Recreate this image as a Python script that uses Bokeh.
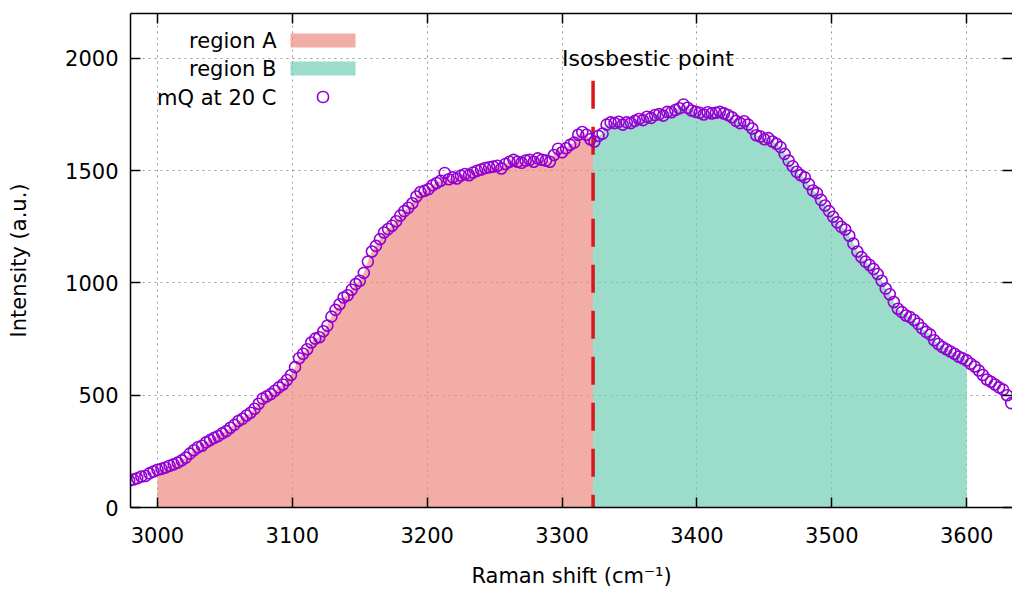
import numpy as np
from bokeh.plotting import figure
from bokeh.models import (ColumnDataSource, LinearAxis, Range1d, FixedTicker,
                          Label, BoxAnnotation)
from bokeh.embed import file_html
from bokeh.resources import INLINE

# ---- data -------------------------------------------------------------
# Raman spectrum of mQ water at 20 C, sampled every 3 cm^-1 from 2979 cm^-1
shift_start = 2979
shift_step = 3
intensity = [
    120, 125, 130, 138, 140, 152, 160, 168, 172, 178,
    186, 192, 200, 210, 222, 240, 255, 268, 275, 290,
    300, 310, 318, 330, 340, 355, 368, 385, 395, 410,
    422, 440, 462, 485, 495, 505, 520, 535, 548, 568,
    590, 625, 665, 685, 705, 735, 752, 758, 785, 810,
    850, 880, 905, 935, 945, 970, 995, 1010, 1045, 1095,
    1140, 1165, 1195, 1225, 1240, 1255, 1275, 1300, 1320, 1335,
    1355, 1385, 1405, 1410, 1418, 1435, 1445, 1455, 1490, 1462,
    1470, 1465, 1478, 1485, 1480, 1492, 1500, 1505, 1512, 1515,
    1518, 1522, 1510, 1530, 1540, 1548, 1540, 1535, 1545, 1548,
    1540, 1555, 1548, 1545, 1540, 1570, 1598, 1582, 1600, 1615,
    1625, 1660, 1672, 1660, 1640, 1630, 1655, 1665, 1705, 1715,
    1712, 1718, 1705, 1715, 1712, 1722, 1730, 1725, 1740, 1735,
    1748, 1752, 1745, 1762, 1760, 1770, 1778, 1795, 1780, 1768,
    1762, 1758, 1750, 1760, 1755, 1758, 1762, 1755, 1748, 1738,
    1722, 1712, 1720, 1705, 1688, 1658, 1652, 1640, 1645, 1630,
    1620, 1605, 1575, 1545, 1520, 1495, 1480, 1470, 1440, 1412,
    1400, 1370, 1345, 1320, 1295, 1270, 1250, 1238, 1210, 1175,
    1140, 1115, 1095, 1080, 1062, 1040, 1010, 975, 950, 915,
    885, 870, 855, 848, 835, 818, 798, 782, 770, 745,
    728, 715, 705, 695, 685, 672, 665, 655, 640, 628,
    610, 590, 570, 560, 548, 535, 525, 500, 465,
]

region_a = (3000, 3323)      # integration window A
region_b = (3323, 3600)      # integration window B
isosbestic_point = 3323
isosbestic_line_top = 1900

x_ticks = [3000, 3100, 3200, 3300, 3400, 3500, 3600]
y_ticks = [0, 500, 1000, 1500, 2000]

series_label = "mQ at 20 C"
region_labels = ["region A", "region B"]

# ---- styling ----------------------------------------------------------
FONT = "DejaVu Sans"
FS = "21px"
COLOR_A = "#ec8c80"
COLOR_B = "#70cdb5"
FILL_ALPHA = 0.7
MARKER_COLOR = "#9400d3"
ISO_COLOR = "#d8181c"

shift = shift_start + shift_step * np.arange(len(intensity))
intensity = np.asarray(intensity, dtype=float)
iso_height = float(np.interp(isosbestic_point, shift, intensity))


def window(lo, hi):
    """Spectrum restricted to [lo, hi], closed at the isosbestic edge."""
    m = (shift >= lo) & (shift <= hi)
    xs = list(shift[m])
    ys = list(intensity[m])
    if lo == isosbestic_point and (not xs or xs[0] != lo):
        xs.insert(0, lo)
        ys.insert(0, iso_height)
    if hi == isosbestic_point and (not xs or xs[-1] != hi):
        xs.append(hi)
        ys.append(iso_height)
    return xs, ys


p = figure(width=1012, height=590,
           x_range=Range1d(2980, 3634), y_range=Range1d(0, 2200),
           output_backend="svg", toolbar_location=None,
           min_border_left=130, min_border_right=0,
           min_border_top=13, min_border_bottom=83,
           background_fill_color="white", border_fill_color="white")
p.outline_line_color = None

# grid
for g, t in ((p.xgrid, x_ticks), (p.ygrid, y_ticks)):
    g.ticker = FixedTicker(ticks=t)
    g.grid_line_color = "#9a9a9a"
    g.grid_line_dash = "2 4"
    g.grid_line_width = 1

# integration regions
xa, ya = window(*region_a)
xb, yb = window(*region_b)
p.varea(x=xa, y1=0, y2=ya, fill_color=COLOR_A, fill_alpha=FILL_ALPHA)
p.varea(x=xb, y1=0, y2=yb, fill_color=COLOR_B, fill_alpha=FILL_ALPHA)

# isosbestic marker line
p.segment(x0=isosbestic_point, y0=isosbestic_line_top,
          x1=isosbestic_point, y1=0,
          line_color=ISO_COLOR, line_width=3.5, line_dash="28 18")

# measured spectrum
src = ColumnDataSource(dict(shift=shift, intensity=intensity))
p.scatter(x="shift", y="intensity", source=src, marker="circle", size=11,
          fill_color=None, line_color=MARKER_COLOR, line_width=1.6)

# annotation
p.add_layout(Label(x=3300, y=2000, text="Isosbestic point",
                   text_align="left", text_baseline="middle",
                   text_font=FONT, text_font_size="22px", text_color="black"))


def style_axis(ax, labels=True):
    ax.axis_line_color = "black"
    ax.axis_line_width = 1.5
    ax.major_tick_line_color = "black"
    ax.major_tick_line_width = 1.5
    ax.major_tick_in = 10
    ax.major_tick_out = 0
    ax.minor_tick_line_color = None
    ax.major_label_text_font = FONT
    if labels:
        ax.major_label_text_font_size = FS
        ax.major_label_text_color = "black"
    else:
        # mirrored tick marks only
        ax.major_label_text_font_size = "0px"
        ax.major_label_text_color = None
        ax.major_label_standoff = 0


xb_axis = p.below[0]
xb_axis.ticker = FixedTicker(ticks=x_ticks)
style_axis(xb_axis)
xb_axis.major_label_standoff = 19
xb_axis.axis_label = "Raman shift (cm\u207b\u00b9)"
xb_axis.axis_label_text_font = FONT
xb_axis.axis_label_text_font_size = FS
xb_axis.axis_label_text_color = "black"
xb_axis.axis_label_text_font_style = "normal"
xb_axis.axis_label_standoff = 18

yl_axis = p.left[0]
yl_axis.ticker = FixedTicker(ticks=y_ticks)
style_axis(yl_axis)
yl_axis.major_label_standoff = 12
yl_axis.axis_label = "Intensity (a.u.)"
yl_axis.axis_label_text_font = FONT
yl_axis.axis_label_text_font_size = FS
yl_axis.axis_label_text_color = "black"
yl_axis.axis_label_text_font_style = "normal"
yl_axis.axis_label_standoff = 31

top_axis = LinearAxis(ticker=FixedTicker(ticks=x_ticks))
style_axis(top_axis, labels=False)
p.add_layout(top_axis, "above")

right_axis = LinearAxis(ticker=FixedTicker(ticks=y_ticks))
style_axis(right_axis, labels=False)
right_axis.axis_line_color = None
p.add_layout(right_axis, "right")

# key (text on the left, sample on the right), placed in frame pixels
key_text_right = 146
key_rows = [467, 439, 410]
for label, y in zip(region_labels + [series_label], key_rows):
    p.add_layout(Label(x=key_text_right, y=y, x_units="screen", y_units="screen",
                       text=label, text_align="right", text_baseline="middle",
                       text_font=FONT, text_font_size=FS, text_color="black"))
for color, y in zip((COLOR_A, COLOR_B), key_rows[:2]):
    p.add_layout(BoxAnnotation(left=160, right=225, bottom=y - 7, top=y + 7,
                               left_units="screen", right_units="screen",
                               bottom_units="screen", top_units="screen",
                               fill_color=color, fill_alpha=FILL_ALPHA,
                               line_color=None))
p.add_layout(BoxAnnotation(left=187, right=198,
                           bottom=key_rows[2] - 5, top=key_rows[2] + 6,
                           left_units="screen", right_units="screen",
                           bottom_units="screen", top_units="screen",
                           border_radius=5, fill_color=None,
                           line_color=MARKER_COLOR, line_alpha=1.0,
                           line_width=1.6, line_dash="solid"))

open("out.html", "w").write(file_html(p, INLINE))
